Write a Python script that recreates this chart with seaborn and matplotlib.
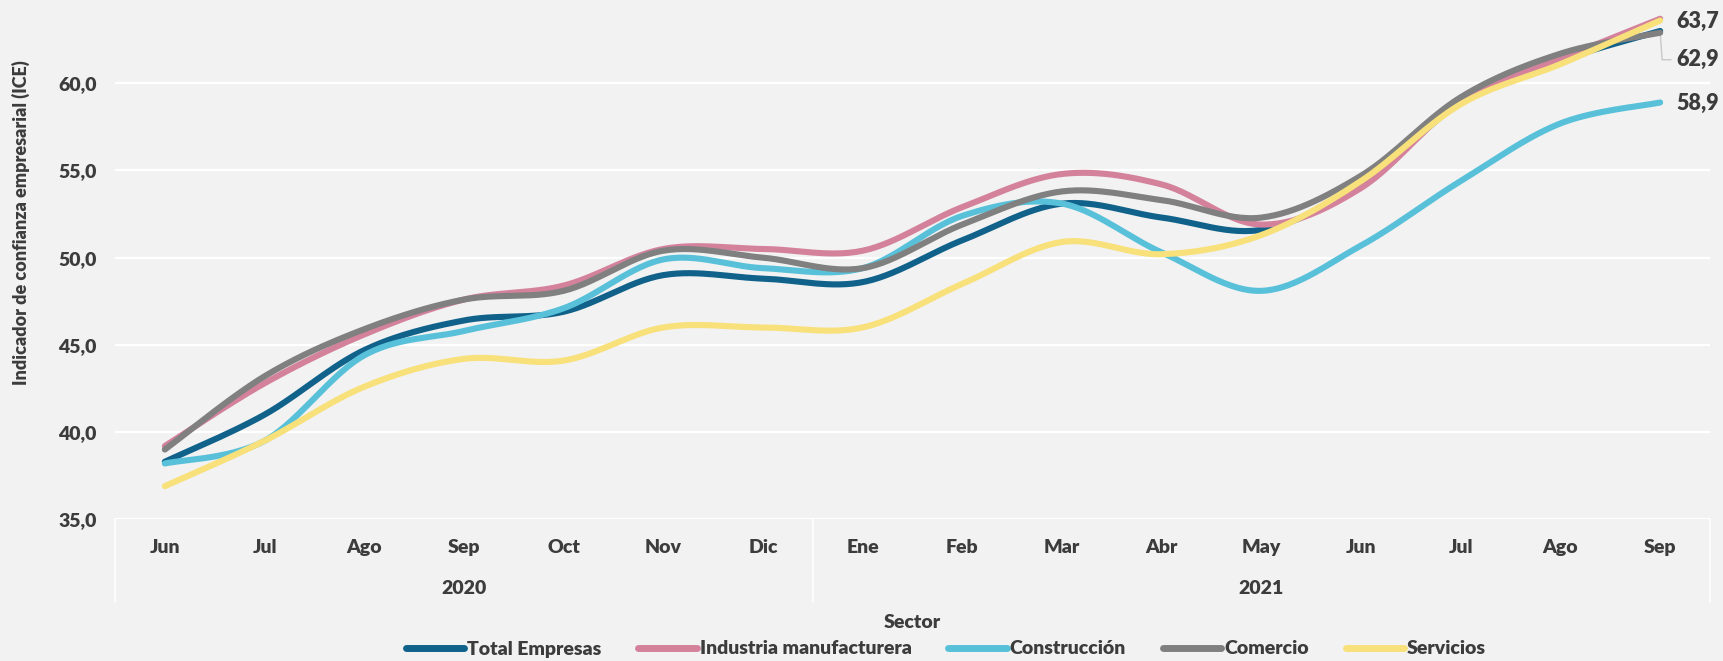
import numpy as np
import pandas as pd
import matplotlib
matplotlib.use("Agg")
import matplotlib.pyplot as plt
import matplotlib.transforms as mtransforms
from matplotlib.lines import Line2D
import seaborn as sns

# ---------------- data ----------------
months = ["Jun", "Jul", "Ago", "Sep", "Oct", "Nov", "Dic",
          "Ene", "Feb", "Mar", "Abr", "May", "Jun", "Jul", "Ago", "Sep"]
years = ["2020", "2021"]
year_spans = [(0, 6), (7, 15)]

total_empresas = [38.3, 41.0, 44.7, 46.4, 46.9, 49.0, 48.8, 48.6, 51.0, 53.1, 52.3, 51.6, 54.2, 58.9, 61.3, 63.0]
industria = [39.2, 42.8, 45.6, 47.6, 48.4, 50.5, 50.5, 50.4, 52.9, 54.8, 54.2, 51.9, 54.0, 59.0, 61.4, 63.7]
construccion = [38.2, 39.5, 44.4, 45.8, 47.1, 49.9, 49.4, 49.4, 52.4, 53.1, 50.3, 48.1, 50.7, 54.4, 57.7, 58.9]
comercio = [39.0, 43.2, 45.9, 47.6, 48.1, 50.4, 50.0, 49.4, 51.9, 53.8, 53.3, 52.3, 54.7, 59.2, 61.7, 62.9]
servicios = [36.9, 39.5, 42.6, 44.2, 44.1, 46.0, 46.0, 46.0, 48.5, 50.9, 50.2, 51.3, 54.4, 58.8, 61.1, 63.6]

series_names = ["Total Empresas", "Industria manufacturera", "Construcción", "Comercio", "Servicios"]
series_values = [total_empresas, industria, construccion, comercio, servicios]
colors = ["#10628a", "#d4829c", "#58c1d9", "#808080", "#f8e07a"]

end_labels = ["63,7", "62,9", "58,9"]
end_label_y = [63.55, 61.35, 58.85]

# ---------------- smoothing (Excel-like Catmull-Rom bezier) ----------------
def smooth(xs, ys, n=30):
    P = np.column_stack([xs, ys]).astype(float)
    out = []
    m = len(P)
    for i in range(m - 1):
        p0 = P[i - 1] if i > 0 else P[i]
        p1 = P[i]
        p2 = P[i + 1]
        p3 = P[i + 2] if i + 2 < m else P[i + 1]
        c1 = p1 + (p2 - p0) / 6.0
        c2 = p2 - (p3 - p1) / 6.0
        t = np.linspace(0, 1, n, endpoint=(i == m - 2))[:, None]
        b = ((1 - t) ** 3) * p1 + 3 * ((1 - t) ** 2) * t * c1 + 3 * (1 - t) * t ** 2 * c2 + t ** 3 * p2
        out.append(b)
    out = np.vstack(out)
    return out[:, 0], out[:, 1]

rows = []
xs = np.arange(len(months))
for name, vals in zip(series_names, series_values):
    sx, sy = smooth(xs, vals)
    for k, (a, b) in enumerate(zip(sx, sy)):
        rows.append({"x": a, "y": b, "Sector": name, "order": k})
df = pd.DataFrame(rows)

# ---------------- figure ----------------
sns.set_theme(style="white")
plt.rcParams["font.family"] = ["Lato", "DejaVu Sans"]
WT = "heavy"
plt.rcParams["font.weight"] = WT

BG = "#f2f2f2"
TXT = "#3c3c3c"
W, H = 1723, 661
fig = plt.figure(figsize=(W / 100, H / 100), dpi=100, facecolor=BG)
ax_left, ax_right = 115 / W, 1710 / W
ax_bottom = 1 - 519.3 / H
ax_top = 1 - 4.8 / H
ax = fig.add_axes([ax_left, ax_bottom, ax_right - ax_left, ax_top - ax_bottom])
ax.set_facecolor(BG)

ax.set_xlim(-0.5, 15.5)
ax.set_ylim(35, 64.5)

for v in [40, 45, 50, 55, 60]:
    ax.axhline(v, color="white", lw=1.6, zorder=0)
ax.axhline(35, color="white", lw=1.6, zorder=0)

sns.lineplot(data=df, x="x", y="y", hue="Sector", hue_order=series_names,
             palette=colors, estimator=None, sort=False, units="Sector",
             linewidth=4.4, ax=ax, legend=False)
for line in ax.get_lines():
    line.set_solid_capstyle("round")

for s in ax.spines.values():
    s.set_visible(False)

ax.set_yticks([35, 40, 45, 50, 55, 60])
ax.set_yticklabels([f"{v:.1f}".replace(".", ",") for v in [35, 40, 45, 50, 55, 60]],
                   fontsize=14, fontweight=WT, color=TXT)
ax.set_xticks(xs)
ax.set_xticklabels(months, fontsize=14, fontweight=WT, color=TXT, va="center")
ax.tick_params(axis="x", length=0, pad=20)
ax.tick_params(axis="y", length=0, pad=13)
ax.set_xlabel("")
ax.set_ylabel("")

# year labels and separators
trans = mtransforms.blended_transform_factory(ax.transData, ax.transAxes)
ah = 519.3 - 4.8
for yr, (a, b) in zip(years, year_spans):
    ax.text((a + b) / 2, -(588 - 519.3) / ah, yr, transform=trans, ha="center", va="center",
            fontsize=14, fontweight=WT, color=TXT)
for xv in [-0.5, 6.5, 15.5]:
    ax.plot([xv, xv], [0, -(602 - 519.3) / ah], transform=trans, color="white", lw=1.2, clip_on=False)

# end labels
for lab, yv in zip(end_labels, end_label_y):
    ax.text(15.16, yv, lab, ha="left", va="center", fontsize=15.5, fontweight=WT,
            color=TXT, clip_on=False)
ax.plot([15.0, 15.02, 15.11], [62.9, 61.35, 61.35], color="#c8c8c8", lw=1.0, zorder=1, clip_on=False)

# axis titles
fig.text(21 / W, ax_bottom + (ax_top - ax_bottom) * 0.5 + 0.06, "Indicador de confianza empresarial (ICE)",
         rotation=90, ha="center", va="center", fontsize=13, fontweight=WT, color=TXT)
fig.text(912 / W, 1 - 622 / H, "Sector", ha="center", va="center", fontsize=14,
         fontweight=WT, color=TXT)

handles = [Line2D([0], [0], color=c, lw=5, solid_capstyle="round") for c in colors]
leg = fig.legend(handles, series_names, ncol=5, loc="center", bbox_to_anchor=(0.549, 1 - 649 / H),
                 frameon=False, handlelength=3.0, handletextpad=0.15, columnspacing=1.9,
                 prop={"size": 14, "weight": WT})
for t in leg.get_texts():
    t.set_color(TXT)

fig.savefig("out.png", dpi=100, facecolor=BG)
